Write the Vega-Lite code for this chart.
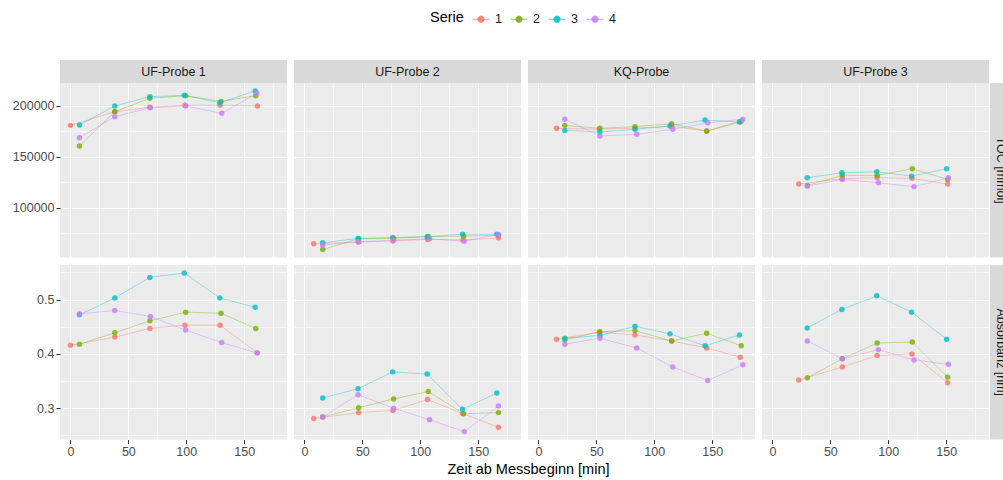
{
  "$schema": "https://vega.github.io/schema/vega-lite/v6.json",
  "background": "#FFFFFF",
  "padding": {"left": 10, "top": 10, "right": 0, "bottom": 0},
  "title": {"text": "Zeit ab Messbeginn [min]", "orient": "bottom", "anchor": "middle", "fontSize": 14.5, "fontWeight": "normal", "color": "#000000", "offset": 5, "dx": 22},
  "config": {
    "font": "Liberation Sans",
    "view": {"fill": "#EBEBEB", "stroke": null},
    "axis": {"gridColor": "#FFFFFF", "gridOpacity": 1, "domain": false, "labelColor": "#4D4D4D", "labelFontSize": 12.5, "labelPadding": 2, "tickColor": "#333333", "tickSize": 4, "tickWidth": 1},
    "text": {"font": "Liberation Sans"}
  },
  "datasets": {
    "messung": [
      {"probe": "UF-Probe 1", "serie": "1", "zeit": 0, "toc": 180700, "wert": 0.416},
      {"probe": "UF-Probe 1", "serie": "1", "zeit": 38.3, "toc": 194000, "wert": 0.431},
      {"probe": "UF-Probe 1", "serie": "1", "zeit": 68.6, "toc": 198500, "wert": 0.447},
      {"probe": "UF-Probe 1", "serie": "1", "zeit": 98.9, "toc": 200300, "wert": 0.453},
      {"probe": "UF-Probe 1", "serie": "1", "zeit": 129.2, "toc": 200500, "wert": 0.453},
      {"probe": "UF-Probe 1", "serie": "1", "zeit": 161.5, "toc": 199700, "wert": 0.402},
      {"probe": "UF-Probe 1", "serie": "2", "zeit": 7.8, "toc": 160500, "wert": 0.418},
      {"probe": "UF-Probe 1", "serie": "2", "zeit": 38.3, "toc": 194100, "wert": 0.439},
      {"probe": "UF-Probe 1", "serie": "2", "zeit": 68.6, "toc": 207200, "wert": 0.461},
      {"probe": "UF-Probe 1", "serie": "2", "zeit": 99.5, "toc": 209800, "wert": 0.477},
      {"probe": "UF-Probe 1", "serie": "2", "zeit": 130, "toc": 204200, "wert": 0.475},
      {"probe": "UF-Probe 1", "serie": "2", "zeit": 160, "toc": 209800, "wert": 0.447},
      {"probe": "UF-Probe 1", "serie": "3", "zeit": 7.8, "toc": 181000, "wert": 0.472},
      {"probe": "UF-Probe 1", "serie": "3", "zeit": 38.3, "toc": 199700, "wert": 0.503},
      {"probe": "UF-Probe 1", "serie": "3", "zeit": 68.6, "toc": 208800, "wert": 0.541},
      {"probe": "UF-Probe 1", "serie": "3", "zeit": 98.3, "toc": 210100, "wert": 0.549},
      {"probe": "UF-Probe 1", "serie": "3", "zeit": 129, "toc": 202900, "wert": 0.503},
      {"probe": "UF-Probe 1", "serie": "3", "zeit": 159.5, "toc": 214400, "wert": 0.486},
      {"probe": "UF-Probe 1", "serie": "4", "zeit": 7.8, "toc": 168600, "wert": 0.474},
      {"probe": "UF-Probe 1", "serie": "4", "zeit": 38.3, "toc": 189200, "wert": 0.48},
      {"probe": "UF-Probe 1", "serie": "4", "zeit": 69, "toc": 198000, "wert": 0.469},
      {"probe": "UF-Probe 1", "serie": "4", "zeit": 99.5, "toc": 199700, "wert": 0.444},
      {"probe": "UF-Probe 1", "serie": "4", "zeit": 130.7, "toc": 192500, "wert": 0.421},
      {"probe": "UF-Probe 1", "serie": "4", "zeit": 161, "toc": 212100, "wert": 0.402},

      {"probe": "UF-Probe 2", "serie": "1", "zeit": 8, "toc": 64700, "wert": 0.281},
      {"probe": "UF-Probe 2", "serie": "1", "zeit": 46.8, "toc": 66500, "wert": 0.292},
      {"probe": "UF-Probe 2", "serie": "1", "zeit": 76.4, "toc": 67500, "wert": 0.296},
      {"probe": "UF-Probe 2", "serie": "1", "zeit": 106.3, "toc": 69000, "wert": 0.316},
      {"probe": "UF-Probe 2", "serie": "1", "zeit": 136.8, "toc": 68500, "wert": 0.29},
      {"probe": "UF-Probe 2", "serie": "1", "zeit": 167.5, "toc": 70300, "wert": 0.265},
      {"probe": "UF-Probe 2", "serie": "2", "zeit": 15.8, "toc": 59100, "wert": 0.284},
      {"probe": "UF-Probe 2", "serie": "2", "zeit": 46.8, "toc": 69600, "wert": 0.301},
      {"probe": "UF-Probe 2", "serie": "2", "zeit": 77, "toc": 70000, "wert": 0.317},
      {"probe": "UF-Probe 2", "serie": "2", "zeit": 106.9, "toc": 71900, "wert": 0.331},
      {"probe": "UF-Probe 2", "serie": "2", "zeit": 137.4, "toc": 72200, "wert": 0.29},
      {"probe": "UF-Probe 2", "serie": "2", "zeit": 167.5, "toc": 73200, "wert": 0.292},
      {"probe": "UF-Probe 2", "serie": "3", "zeit": 15.8, "toc": 65700, "wert": 0.319},
      {"probe": "UF-Probe 2", "serie": "3", "zeit": 46.3, "toc": 70000, "wert": 0.336},
      {"probe": "UF-Probe 2", "serie": "3", "zeit": 76.2, "toc": 70900, "wert": 0.367},
      {"probe": "UF-Probe 2", "serie": "3", "zeit": 106, "toc": 71600, "wert": 0.363},
      {"probe": "UF-Probe 2", "serie": "3", "zeit": 136.5, "toc": 74200, "wert": 0.298},
      {"probe": "UF-Probe 2", "serie": "3", "zeit": 166.1, "toc": 74200, "wert": 0.328},
      {"probe": "UF-Probe 2", "serie": "4", "zeit": 15.8, "toc": 63400, "wert": 0.284},
      {"probe": "UF-Probe 2", "serie": "4", "zeit": 46.3, "toc": 66700, "wert": 0.325},
      {"probe": "UF-Probe 2", "serie": "4", "zeit": 77, "toc": 68300, "wert": 0.3},
      {"probe": "UF-Probe 2", "serie": "4", "zeit": 108, "toc": 69600, "wert": 0.279},
      {"probe": "UF-Probe 2", "serie": "4", "zeit": 138, "toc": 67300, "wert": 0.257},
      {"probe": "UF-Probe 2", "serie": "4", "zeit": 167.5, "toc": 73900, "wert": 0.304},

      {"probe": "KQ-Probe", "serie": "1", "zeit": 15.6, "toc": 177800, "wert": 0.427},
      {"probe": "KQ-Probe", "serie": "1", "zeit": 52.5, "toc": 177000, "wert": 0.44},
      {"probe": "KQ-Probe", "serie": "1", "zeit": 83.4, "toc": 178000, "wert": 0.435},
      {"probe": "KQ-Probe", "serie": "1", "zeit": 115, "toc": 180000, "wert": 0.424},
      {"probe": "KQ-Probe", "serie": "1", "zeit": 145.3, "toc": 175000, "wert": 0.411},
      {"probe": "KQ-Probe", "serie": "1", "zeit": 174.2, "toc": 184000, "wert": 0.394},
      {"probe": "KQ-Probe", "serie": "2", "zeit": 22.8, "toc": 180700, "wert": 0.426},
      {"probe": "KQ-Probe", "serie": "2", "zeit": 53.1, "toc": 177800, "wert": 0.441},
      {"probe": "KQ-Probe", "serie": "2", "zeit": 83.4, "toc": 179400, "wert": 0.443},
      {"probe": "KQ-Probe", "serie": "2", "zeit": 115, "toc": 182400, "wert": 0.424},
      {"probe": "KQ-Probe", "serie": "2", "zeit": 145.3, "toc": 175200, "wert": 0.438},
      {"probe": "KQ-Probe", "serie": "2", "zeit": 175.1, "toc": 185000, "wert": 0.415},
      {"probe": "KQ-Probe", "serie": "3", "zeit": 22.8, "toc": 175800, "wert": 0.429},
      {"probe": "KQ-Probe", "serie": "3", "zeit": 53.1, "toc": 174200, "wert": 0.434},
      {"probe": "KQ-Probe", "serie": "3", "zeit": 83.4, "toc": 176800, "wert": 0.451},
      {"probe": "KQ-Probe", "serie": "3", "zeit": 113.6, "toc": 180100, "wert": 0.437},
      {"probe": "KQ-Probe", "serie": "3", "zeit": 143.9, "toc": 185900, "wert": 0.415},
      {"probe": "KQ-Probe", "serie": "3", "zeit": 173.6, "toc": 184000, "wert": 0.435},
      {"probe": "KQ-Probe", "serie": "4", "zeit": 22.8, "toc": 186600, "wert": 0.418},
      {"probe": "KQ-Probe", "serie": "4", "zeit": 53.1, "toc": 170300, "wert": 0.429},
      {"probe": "KQ-Probe", "serie": "4", "zeit": 84.9, "toc": 171900, "wert": 0.411},
      {"probe": "KQ-Probe", "serie": "4", "zeit": 116, "toc": 176800, "wert": 0.376},
      {"probe": "KQ-Probe", "serie": "4", "zeit": 146.2, "toc": 183300, "wert": 0.351},
      {"probe": "KQ-Probe", "serie": "4", "zeit": 176.5, "toc": 186600, "wert": 0.38},

      {"probe": "UF-Probe 3", "serie": "1", "zeit": 22.7, "toc": 123200, "wert": 0.352},
      {"probe": "UF-Probe 3", "serie": "1", "zeit": 60.3, "toc": 128500, "wert": 0.376},
      {"probe": "UF-Probe 3", "serie": "1", "zeit": 90.4, "toc": 129500, "wert": 0.397},
      {"probe": "UF-Probe 3", "serie": "1", "zeit": 120.5, "toc": 128800, "wert": 0.4},
      {"probe": "UF-Probe 3", "serie": "1", "zeit": 151.3, "toc": 123200, "wert": 0.347},
      {"probe": "UF-Probe 3", "serie": "2", "zeit": 30.1, "toc": 121900, "wert": 0.356},
      {"probe": "UF-Probe 3", "serie": "2", "zeit": 60.3, "toc": 131700, "wert": 0.391},
      {"probe": "UF-Probe 3", "serie": "2", "zeit": 90.4, "toc": 131700, "wert": 0.42},
      {"probe": "UF-Probe 3", "serie": "2", "zeit": 120.8, "toc": 138200, "wert": 0.422},
      {"probe": "UF-Probe 3", "serie": "2", "zeit": 151.3, "toc": 127800, "wert": 0.357},
      {"probe": "UF-Probe 3", "serie": "3", "zeit": 30, "toc": 129400, "wert": 0.448},
      {"probe": "UF-Probe 3", "serie": "3", "zeit": 60, "toc": 134300, "wert": 0.482},
      {"probe": "UF-Probe 3", "serie": "3", "zeit": 90.1, "toc": 135300, "wert": 0.507},
      {"probe": "UF-Probe 3", "serie": "3", "zeit": 120.2, "toc": 131000, "wert": 0.477},
      {"probe": "UF-Probe 3", "serie": "3", "zeit": 150.4, "toc": 138200, "wert": 0.427},
      {"probe": "UF-Probe 3", "serie": "4", "zeit": 30.1, "toc": 121200, "wert": 0.424},
      {"probe": "UF-Probe 3", "serie": "4", "zeit": 60.3, "toc": 127800, "wert": 0.391},
      {"probe": "UF-Probe 3", "serie": "4", "zeit": 91.5, "toc": 124500, "wert": 0.408},
      {"probe": "UF-Probe 3", "serie": "4", "zeit": 122.2, "toc": 120600, "wert": 0.389},
      {"probe": "UF-Probe 3", "serie": "4", "zeit": 151.9, "toc": 129400, "wert": 0.381}
    ]
  },
  "vconcat": [
    {
      "hconcat": [
        {"width": 227, "height": 23, "view": {"fill": "#D9D9D9", "stroke": null}, "data": {"values": [{"label": "UF-Probe 1"}]},
         "mark": {"type": "text", "fontSize": 12.5, "color": "#1A1A1A"},
         "encoding": {"text": {"field": "label"}, "y": {"field": "label", "type": "nominal", "axis": {"labels": false, "ticks": false, "domain": false, "grid": false, "title": null, "minExtent": 50, "maxExtent": 50}}}},
        {"width": 227, "height": 23, "view": {"fill": "#D9D9D9", "stroke": null}, "data": {"values": [{"label": "UF-Probe 2"}]},
         "mark": {"type": "text", "fontSize": 12.5, "color": "#1A1A1A"}, "encoding": {"text": {"field": "label"}}},
        {"width": 227, "height": 23, "view": {"fill": "#D9D9D9", "stroke": null}, "data": {"values": [{"label": "KQ-Probe"}]},
         "mark": {"type": "text", "fontSize": 12.5, "color": "#1A1A1A"}, "encoding": {"text": {"field": "label"}}},
        {"width": 227, "height": 23, "view": {"fill": "#D9D9D9", "stroke": null}, "data": {"values": [{"label": "UF-Probe 3"}]},
         "mark": {"type": "text", "fontSize": 12.5, "color": "#1A1A1A"}, "encoding": {"text": {"field": "label"}}}
      ],
      "spacing": 7
    },
    {
      "vconcat": [
        {
          "hconcat": [
            {
              "hconcat": [
                {"width": 227, "height": 174.5, "data": {"name": "messung"}, "transform": [{"filter": {"field": "probe", "equal": "UF-Probe 1"}}],
                 "encoding": {
                   "x": {"field": "zeit", "type": "quantitative", "scale": {"domain": [-9, 187], "nice": false, "zero": false}, "axis": {"values": [0, 25, 50, 75, 100, 125, 150, 175], "labels": false, "ticks": false, "title": null, "minExtent": 0, "maxExtent": 0, "gridWidth": {"condition": {"test": "datum.value % 50 === 0", "value": 1.1}, "value": 0.55}}},
                   "y": {"field": "toc", "type": "quantitative", "scale": {"domain": [51300, 222200], "nice": false, "zero": false}, "axis": {"values": [75000, 100000, 125000, 150000, 175000, 200000], "format": "d", "title": null, "minExtent": 50, "maxExtent": 50, "labelExpr": "datum.value % 50000 === 0 ? datum.label : ''", "tickOpacity": {"condition": {"test": "datum.value % 50000 === 0", "value": 1}, "value": 0}, "gridWidth": {"condition": {"test": "datum.value % 50000 === 0", "value": 1.1}, "value": 0.55}}},
                   "color": {"field": "serie", "type": "nominal", "scale": {"domain": ["1", "2", "3", "4"], "range": ["#F8766D", "#7CAE00", "#00BFC4", "#C77CFF"]},
                     "legend": {"title": "Serie", "orient": "none", "legendX": 370, "legendY": -50, "direction": "horizontal", "titleOrient": "left", "titleFontSize": 14.5, "titleFontWeight": "normal", "titleColor": "#000000", "titlePadding": 8, "labelFontSize": 12.5, "labelColor": "#1A1A1A", "labelOffset": 5, "columnPadding": 6, "symbolType": "M-1,0L1,0M0.38,0A0.38,0.38,0,1,1,-0.38,0A0.38,0.38,0,1,1,0.38,0Z", "symbolSize": 289, "symbolStrokeWidth": 0.8, "symbolOpacity": 0.9,
                       "encode": {"symbols": {"update": {"fill": {"scale": "color", "field": "value"}, "stroke": {"scale": "color", "field": "value"}}}}}}
                 },
                 "layer": [{"mark": {"type": "line", "strokeWidth": 0.7, "opacity": 0.55}}, {"mark": {"type": "circle", "size": 30, "opacity": 0.8}}]},
                {"width": 227, "height": 174.5, "data": {"name": "messung"}, "transform": [{"filter": {"field": "probe", "equal": "UF-Probe 2"}}],
                 "encoding": {
                   "x": {"field": "zeit", "type": "quantitative", "scale": {"domain": [-9, 187], "nice": false, "zero": false}, "axis": {"values": [0, 25, 50, 75, 100, 125, 150, 175], "labels": false, "ticks": false, "title": null, "minExtent": 0, "maxExtent": 0, "gridWidth": {"condition": {"test": "datum.value % 50 === 0", "value": 1.1}, "value": 0.55}}},
                   "y": {"field": "toc", "type": "quantitative", "scale": {"domain": [51300, 222200], "nice": false, "zero": false}, "axis": {"values": [75000, 100000, 125000, 150000, 175000, 200000], "labels": false, "ticks": false, "title": null, "minExtent": 0, "maxExtent": 0, "gridWidth": {"condition": {"test": "datum.value % 50000 === 0", "value": 1.1}, "value": 0.55}}},
                   "color": {"field": "serie", "type": "nominal", "scale": {"domain": ["1", "2", "3", "4"], "range": ["#F8766D", "#7CAE00", "#00BFC4", "#C77CFF"]}}
                 },
                 "layer": [{"mark": {"type": "line", "strokeWidth": 0.7, "opacity": 0.55}}, {"mark": {"type": "circle", "size": 30, "opacity": 0.8}}]},
                {"width": 227, "height": 174.5, "data": {"name": "messung"}, "transform": [{"filter": {"field": "probe", "equal": "KQ-Probe"}}],
                 "encoding": {
                   "x": {"field": "zeit", "type": "quantitative", "scale": {"domain": [-9, 187], "nice": false, "zero": false}, "axis": {"values": [0, 25, 50, 75, 100, 125, 150, 175], "labels": false, "ticks": false, "title": null, "minExtent": 0, "maxExtent": 0, "gridWidth": {"condition": {"test": "datum.value % 50 === 0", "value": 1.1}, "value": 0.55}}},
                   "y": {"field": "toc", "type": "quantitative", "scale": {"domain": [51300, 222200], "nice": false, "zero": false}, "axis": {"values": [75000, 100000, 125000, 150000, 175000, 200000], "labels": false, "ticks": false, "title": null, "minExtent": 0, "maxExtent": 0, "gridWidth": {"condition": {"test": "datum.value % 50000 === 0", "value": 1.1}, "value": 0.55}}},
                   "color": {"field": "serie", "type": "nominal", "scale": {"domain": ["1", "2", "3", "4"], "range": ["#F8766D", "#7CAE00", "#00BFC4", "#C77CFF"]}}
                 },
                 "layer": [{"mark": {"type": "line", "strokeWidth": 0.7, "opacity": 0.55}}, {"mark": {"type": "circle", "size": 30, "opacity": 0.8}}]},
                {"width": 227, "height": 174.5, "data": {"name": "messung"}, "transform": [{"filter": {"field": "probe", "equal": "UF-Probe 3"}}],
                 "encoding": {
                   "x": {"field": "zeit", "type": "quantitative", "scale": {"domain": [-9, 187], "nice": false, "zero": false}, "axis": {"values": [0, 25, 50, 75, 100, 125, 150, 175], "labels": false, "ticks": false, "title": null, "minExtent": 0, "maxExtent": 0, "gridWidth": {"condition": {"test": "datum.value % 50 === 0", "value": 1.1}, "value": 0.55}}},
                   "y": {"field": "toc", "type": "quantitative", "scale": {"domain": [51300, 222200], "nice": false, "zero": false}, "axis": {"values": [75000, 100000, 125000, 150000, 175000, 200000], "labels": false, "ticks": false, "title": null, "minExtent": 0, "maxExtent": 0, "gridWidth": {"condition": {"test": "datum.value % 50000 === 0", "value": 1.1}, "value": 0.55}}},
                   "color": {"field": "serie", "type": "nominal", "scale": {"domain": ["1", "2", "3", "4"], "range": ["#F8766D", "#7CAE00", "#00BFC4", "#C77CFF"]}}
                 },
                 "layer": [{"mark": {"type": "line", "strokeWidth": 0.7, "opacity": 0.55}}, {"mark": {"type": "circle", "size": 30, "opacity": 0.8}}]}
              ],
              "spacing": 7
            },
            {"width": 13, "height": 174.5, "view": {"fill": "#D9D9D9", "stroke": null}, "data": {"values": [{"label": "TOC [mmol]"}]},
             "mark": {"type": "text", "angle": 90, "fontSize": 12.5, "color": "#1A1A1A", "clip": true, "dy": -4.5, "align": "center", "baseline": "middle"},
             "encoding": {"text": {"field": "label"}}}
          ],
          "spacing": 1
        },
        {
          "hconcat": [
            {
              "hconcat": [
                {"width": 227, "height": 174.5, "data": {"name": "messung"}, "transform": [{"filter": {"field": "probe", "equal": "UF-Probe 1"}}],
                 "encoding": {
                   "x": {"field": "zeit", "type": "quantitative", "scale": {"domain": [-9, 187], "nice": false, "zero": false}, "axis": {"values": [0, 25, 50, 75, 100, 125, 150, 175], "title": null, "labelExpr": "datum.value % 50 === 0 ? datum.label : ''", "tickOpacity": {"condition": {"test": "datum.value % 50 === 0", "value": 1}, "value": 0}, "gridWidth": {"condition": {"test": "datum.value % 50 === 0", "value": 1.1}, "value": 0.55}}},
                   "y": {"field": "wert", "type": "quantitative", "scale": {"domain": [0.2425, 0.5638], "nice": false, "zero": false}, "axis": {"values": [0.25, 0.3, 0.35, 0.4, 0.45, 0.5, 0.55], "format": ".1f", "title": null, "minExtent": 50, "maxExtent": 50, "labelExpr": "round(datum.value * 100) % 10 === 0 ? datum.label : ''", "tickOpacity": {"condition": {"test": "round(datum.value * 100) % 10 === 0", "value": 1}, "value": 0}, "gridWidth": {"condition": {"test": "round(datum.value * 100) % 10 === 0", "value": 1.1}, "value": 0.55}}},
                   "color": {"field": "serie", "type": "nominal", "scale": {"domain": ["1", "2", "3", "4"], "range": ["#F8766D", "#7CAE00", "#00BFC4", "#C77CFF"]}}
                 },
                 "layer": [{"mark": {"type": "line", "strokeWidth": 0.7, "opacity": 0.55}}, {"mark": {"type": "circle", "size": 30, "opacity": 0.8}}]},
                {"width": 227, "height": 174.5, "data": {"name": "messung"}, "transform": [{"filter": {"field": "probe", "equal": "UF-Probe 2"}}],
                 "encoding": {
                   "x": {"field": "zeit", "type": "quantitative", "scale": {"domain": [-9, 187], "nice": false, "zero": false}, "axis": {"values": [0, 25, 50, 75, 100, 125, 150, 175], "title": null, "labelExpr": "datum.value % 50 === 0 ? datum.label : ''", "tickOpacity": {"condition": {"test": "datum.value % 50 === 0", "value": 1}, "value": 0}, "gridWidth": {"condition": {"test": "datum.value % 50 === 0", "value": 1.1}, "value": 0.55}}},
                   "y": {"field": "wert", "type": "quantitative", "scale": {"domain": [0.2425, 0.5638], "nice": false, "zero": false}, "axis": {"values": [0.25, 0.3, 0.35, 0.4, 0.45, 0.5, 0.55], "labels": false, "ticks": false, "title": null, "minExtent": 0, "maxExtent": 0, "gridWidth": {"condition": {"test": "round(datum.value * 100) % 10 === 0", "value": 1.1}, "value": 0.55}}},
                   "color": {"field": "serie", "type": "nominal", "scale": {"domain": ["1", "2", "3", "4"], "range": ["#F8766D", "#7CAE00", "#00BFC4", "#C77CFF"]}}
                 },
                 "layer": [{"mark": {"type": "line", "strokeWidth": 0.7, "opacity": 0.55}}, {"mark": {"type": "circle", "size": 30, "opacity": 0.8}}]},
                {"width": 227, "height": 174.5, "data": {"name": "messung"}, "transform": [{"filter": {"field": "probe", "equal": "KQ-Probe"}}],
                 "encoding": {
                   "x": {"field": "zeit", "type": "quantitative", "scale": {"domain": [-9, 187], "nice": false, "zero": false}, "axis": {"values": [0, 25, 50, 75, 100, 125, 150, 175], "title": null, "labelExpr": "datum.value % 50 === 0 ? datum.label : ''", "tickOpacity": {"condition": {"test": "datum.value % 50 === 0", "value": 1}, "value": 0}, "gridWidth": {"condition": {"test": "datum.value % 50 === 0", "value": 1.1}, "value": 0.55}}},
                   "y": {"field": "wert", "type": "quantitative", "scale": {"domain": [0.2425, 0.5638], "nice": false, "zero": false}, "axis": {"values": [0.25, 0.3, 0.35, 0.4, 0.45, 0.5, 0.55], "labels": false, "ticks": false, "title": null, "minExtent": 0, "maxExtent": 0, "gridWidth": {"condition": {"test": "round(datum.value * 100) % 10 === 0", "value": 1.1}, "value": 0.55}}},
                   "color": {"field": "serie", "type": "nominal", "scale": {"domain": ["1", "2", "3", "4"], "range": ["#F8766D", "#7CAE00", "#00BFC4", "#C77CFF"]}}
                 },
                 "layer": [{"mark": {"type": "line", "strokeWidth": 0.7, "opacity": 0.55}}, {"mark": {"type": "circle", "size": 30, "opacity": 0.8}}]},
                {"width": 227, "height": 174.5, "data": {"name": "messung"}, "transform": [{"filter": {"field": "probe", "equal": "UF-Probe 3"}}],
                 "encoding": {
                   "x": {"field": "zeit", "type": "quantitative", "scale": {"domain": [-9, 187], "nice": false, "zero": false}, "axis": {"values": [0, 25, 50, 75, 100, 125, 150, 175], "title": null, "labelExpr": "datum.value % 50 === 0 ? datum.label : ''", "tickOpacity": {"condition": {"test": "datum.value % 50 === 0", "value": 1}, "value": 0}, "gridWidth": {"condition": {"test": "datum.value % 50 === 0", "value": 1.1}, "value": 0.55}}},
                   "y": {"field": "wert", "type": "quantitative", "scale": {"domain": [0.2425, 0.5638], "nice": false, "zero": false}, "axis": {"values": [0.25, 0.3, 0.35, 0.4, 0.45, 0.5, 0.55], "labels": false, "ticks": false, "title": null, "minExtent": 0, "maxExtent": 0, "gridWidth": {"condition": {"test": "round(datum.value * 100) % 10 === 0", "value": 1.1}, "value": 0.55}}},
                   "color": {"field": "serie", "type": "nominal", "scale": {"domain": ["1", "2", "3", "4"], "range": ["#F8766D", "#7CAE00", "#00BFC4", "#C77CFF"]}}
                 },
                 "layer": [{"mark": {"type": "line", "strokeWidth": 0.7, "opacity": 0.55}}, {"mark": {"type": "circle", "size": 30, "opacity": 0.8}}]}
              ],
              "spacing": 7
            },
            {"width": 13, "height": 174.5, "view": {"fill": "#D9D9D9", "stroke": null}, "data": {"values": [{"label": "Absorbanz [nm]"}]},
             "mark": {"type": "text", "angle": 90, "fontSize": 12.5, "color": "#1A1A1A", "clip": true, "dy": -4.5, "align": "center", "baseline": "middle"},
             "encoding": {"text": {"field": "label"}}}
          ],
          "spacing": 1
        }
      ],
      "spacing": 7
    }
  ],
  "spacing": 0
}
